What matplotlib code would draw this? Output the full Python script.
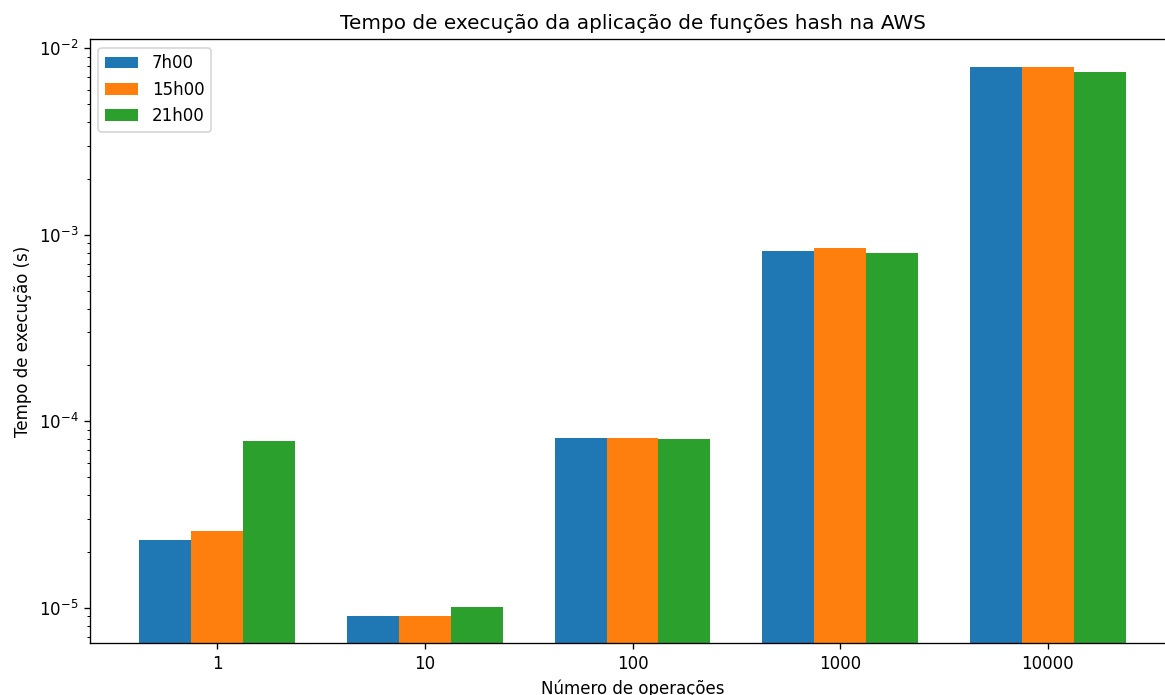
import matplotlib
matplotlib.use("Agg")
import matplotlib.pyplot as plt
import numpy as np

categories = ["1", "10", "100", "1000", "10000"]
series_names = ["7h00", "15h00", "21h00"]
t_7h = [2.31e-5, 9.05e-6, 8.13e-5, 8.18e-4, 7.93e-3]
t_15h = [2.58e-5, 9.05e-6, 8.13e-5, 8.49e-4, 7.93e-3]
t_21h = [7.83e-5, 1.01e-5, 8.04e-5, 7.98e-4, 7.45e-3]

DPI = 120
W, H = 1165, 695
fig = plt.figure(figsize=(W / DPI, H / DPI), dpi=DPI)
left, right, top, bottom = 90, 1175, 39.3, 643.3
ax = fig.add_axes([left / W, 1 - bottom / H, (right - left) / W, (bottom - top) / H])

x = np.arange(len(categories))
w = 0.25
for i, (name, vals) in enumerate(zip(series_names, [t_7h, t_15h, t_21h])):
    ax.bar(x + (i - 1) * w, vals, w, label=name)

ax.set_yscale("log")
ax.set_ylim(6.44e-6, 1.117e-2)
ax.set_xlim(-0.6125, 4.6125)
ax.set_xticks(x)
ax.set_xticklabels(categories)
ax.set_xlabel("Número de operações")
ax.set_ylabel("Tempo de execução (s)")
ax.set_title("Tempo de execução da aplicação de funções hash na AWS")
ax.legend(loc="upper left")

fig.savefig("out.png", dpi=DPI)
